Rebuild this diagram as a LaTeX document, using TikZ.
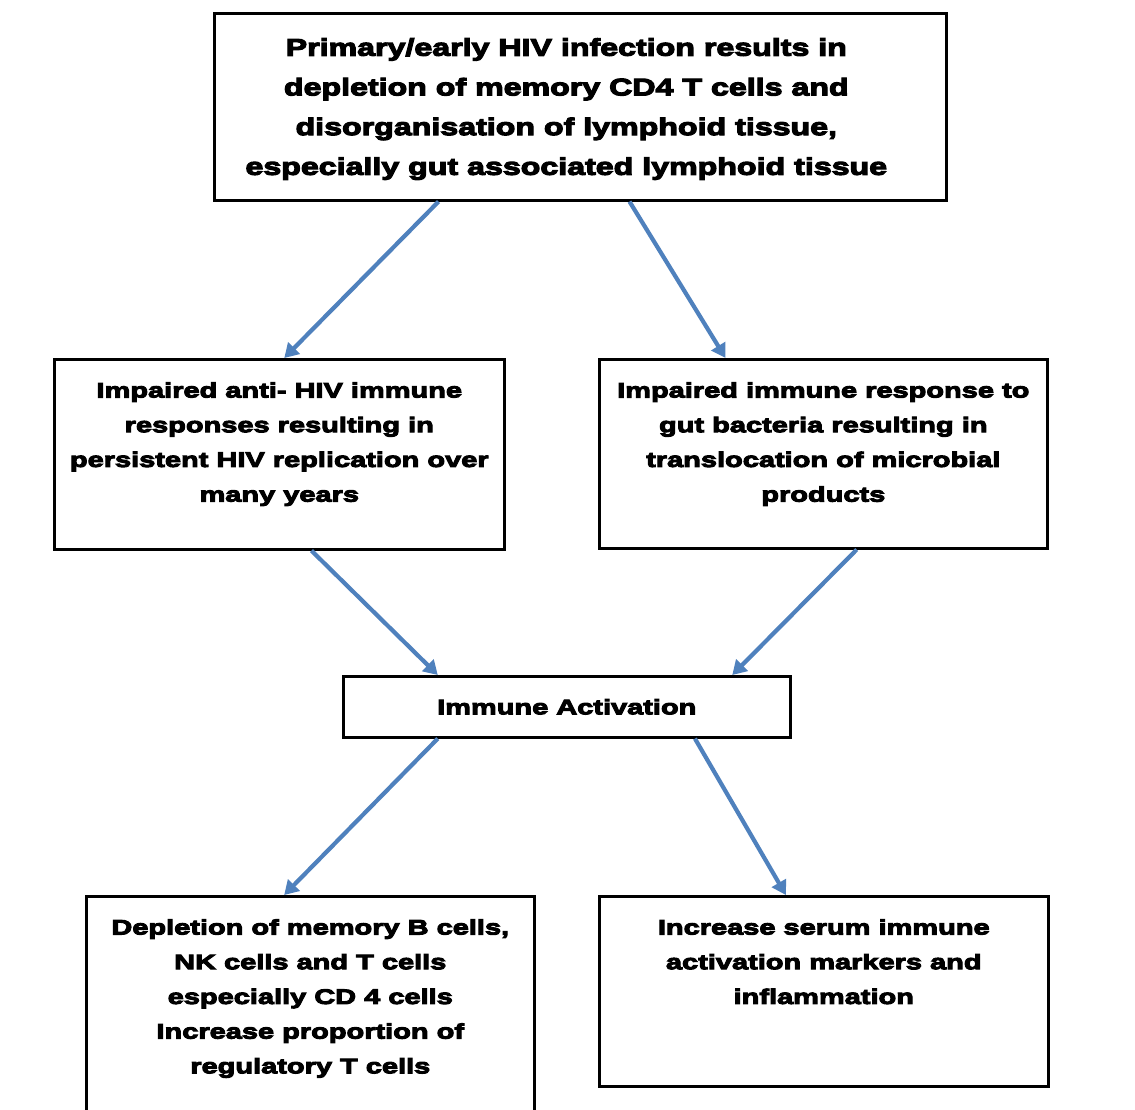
\documentclass[tikz,border=0pt]{standalone}
\usepackage{fontspec}
\setmainfont{Liberation Sans}
\newfontfamily\blk{Liberation Sans}[BoldFeatures={FakeBold=4.8,FakeStretch=1.38}]
\newfontfamily\blkn{Liberation Sans}[BoldFeatures={FakeBold=4.8,FakeStretch=1.34}]
\usetikzlibrary{calc,arrows.meta}
\definecolor{arrblue}{HTML}{4F81BD}
\newcommand{\boxtext}[5][0pt]{\parbox[c][#3][t]{#2}{\vspace*{#4}\centering\advance\rightskip by #1\relax #5\par}}
\tikzset{
  fbox/.style={draw=black, line width=2.6pt, inner sep=0pt, anchor=north west, fill=white},
  arr/.style={draw=arrblue, line width=4.2pt, -{Triangle[length=14pt,width=16pt]}},
  bigtxt/.style={font=\blkn\bfseries\fontsize{24}{39.7}\selectfont},
  midtxt/.style={font=\blk\bfseries\fontsize{21}{34.7}\selectfont}
}
\begin{document}
\begin{tikzpicture}[x=1pt,y=1pt]
\useasboundingbox (0,0) rectangle (1135,-1110);
\clip (0,0) rectangle (1135,-1110);
\fill[white] (0,0) rectangle (1135,-1110);

\node[fbox,bigtxt] (top) at (213,-12)
  {\boxtext[28pt]{732pt}{187pt}{25pt}{Primary/early HIV infection results in\\
   depletion of memory CD4 T cells and\\
   disorganisation of lymphoid tissue,\\
   especially gut associated lymphoid tissue}};

\node[fbox,midtxt] (lm) at (53,-358)
  {\boxtext{450pt}{190pt}{23pt}{Impaired anti- HIV immune\\
   responses resulting in\\
   persistent HIV replication over\\
   many years}};

\node[fbox,midtxt] (rm) at (598,-358)
  {\boxtext{448pt}{189pt}{23pt}{Impaired immune response to\\
   gut bacteria resulting in\\
   translocation of microbial\\
   products}};

\node[fbox,midtxt] (act) at (342,-675)
  {\parbox[c][61pt][c]{447pt}{\centering Immune Activation\par}};

\node[fbox,midtxt] (bl) at (85,-895)
  {\boxtext{448pt}{240pt}{23pt}{Depletion of memory B cells,\\
   NK cells and T cells\\
   especially CD 4 cells\\
   Increase proportion of\\
   regulatory T cells}};

\node[fbox,midtxt] (br) at (598,-895)
  {\boxtext{449pt}{190pt}{23pt}{Increase serum immune\\
   activation markers and\\
   inflammation}};

\draw[arr] ($(top.south west)!0.307!(top.south east)$) -- ($(lm.north west)!0.511!(lm.north east)$);
\draw[arr] ($(top.south west)!0.567!(top.south east)$) -- ($(rm.north west)!0.283!(rm.north east)$);
\draw[arr] ($(lm.south west)!0.571!(lm.south east)$) -- ($(act.north west)!0.213!(act.north east)$);
\draw[arr] ($(rm.south west)!0.574!(rm.south east)$) -- ($(act.north west)!0.868!(act.north east)$);
\draw[arr] ($(act.south west)!0.213!(act.south east)$) -- ($(bl.north west)!0.442!(bl.north east)$);
\draw[arr] ($(act.south west)!0.785!(act.south east)$) -- ($(br.north west)!0.416!(br.north east)$);
\end{tikzpicture}
\end{document}
